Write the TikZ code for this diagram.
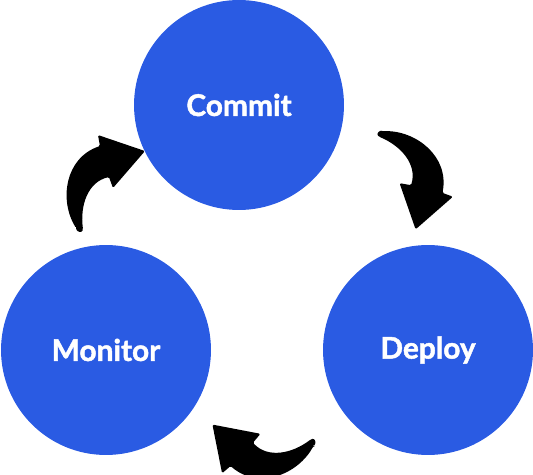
\documentclass[tikz,border=0pt]{standalone}
\usepackage{fontspec}
\setsansfont{Lato}[BoldFeatures={FakeBold=1.5}]
\usetikzlibrary{positioning,calc}

\definecolor{stageblue}{RGB}{42,91,227}

\begin{document}
\begin{tikzpicture}[
    x=0.02cm, y=-0.02cm,
    stage/.style={circle, fill=stageblue, minimum size=4.2cm, inner sep=0pt, text=white, font=\sffamily\bfseries\fontsize{17}{20}\selectfont},
    loop arrow/.style={fill=black, rounded corners=0.8pt},
    pics/cyclearrow/.style={code={
        \fill[loop arrow] (-181.7,-40.3) .. controls (-198.7,-68.3) and (-192.7,-110.3) .. (-157.7,-122.3)
            -- (-159.7,-133.3) -- (-112.7,-117.3) -- (-144.7,-80.3) -- (-148.7,-91.3)
            .. controls (-169.7,-86.3) and (-177.7,-63.3) .. (-174.7,-39.3)
            .. controls (-175.7,-35.3) and (-180.7,-36.3) .. cycle;
    }},
]

\useasboundingbox (0,0) rectangle (533,475);

% Stages
\node[stage] (commit) at (239,105) {Commit};
\node[stage] (monitor) at (106,350) {Monitor};
\node[stage] (deploy) at (428,350) {Deploy};

% Cycle arrows
\coordinate (hub) at (barycentric cs:commit=1,monitor=1,deploy=1);
\pic at (hub) {cyclearrow};
\pic[rotate=-120] at (hub) {cyclearrow};
\pic[rotate=-240] at (hub) {cyclearrow};

\end{tikzpicture}
\end{document}
